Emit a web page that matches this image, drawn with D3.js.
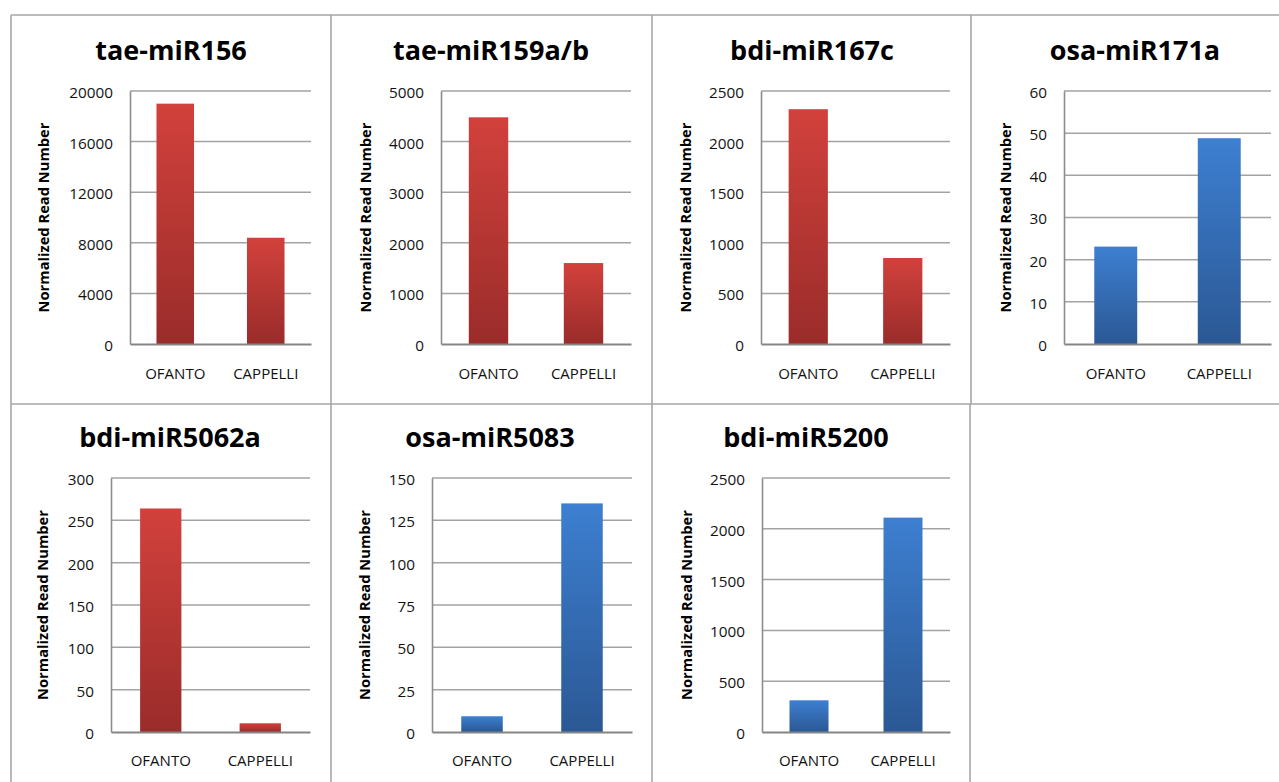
<!DOCTYPE html>
<html><head><meta charset="utf-8">
<script src="https://cdn.jsdelivr.net/npm/d3@7"></script>
<style>body{margin:0;background:#fff;} svg{display:block;}</style>
</head><body>
<script>
// ---------- data ----------
const titles = ["tae-miR156","tae-miR159a/b","bdi-miR167c","osa-miR171a","bdi-miR5062a","osa-miR5083","bdi-miR5200"];
const categories = ["OFANTO","CAPPELLI"];
const ofantoValues = [19000, 4480, 2320, 23.1, 264, 9.3, 312];
const cappelliValues = [8400, 1600, 850, 48.8, 10.3, 135, 2110];
const yMaxima = [20000, 5000, 2500, 60, 300, 150, 2500];
const yTickSteps = [4000, 1000, 500, 10, 50, 25, 500];
const barColours = ["red","red","red","blue","red","blue","blue"];
const yAxisTitle = "Normalized Read Number";

// ---------- layout ----------
const W = 1279, H = 782;
const layout = [
  {titleX:171,  row:0, plot:[130, 311], axisTitleX:44},
  {titleX:491,  row:0, plot:[441, 631], axisTitleX:366},
  {titleX:812,  row:0, plot:[761, 950], axisTitleX:686},
  {titleX:1135, row:0, plot:[1064,1271], axisTitleX:1006},
  {titleX:170,  row:1, plot:[111, 310], axisTitleX:43},
  {titleX:490,  row:1, plot:[432, 632], axisTitleX:365},
  {titleX:806,  row:1, plot:[762, 950], axisTitleX:687}
];
const rows = [
  {top:91,  bottom:344, titleY:60,  catY:379},
  {top:478, bottom:732, titleY:447, catY:766}
];
const FONT = "'Open Sans', 'Liberation Sans', sans-serif";

const svg = d3.select("body").append("svg").attr("width", W).attr("height", H);
const defs = svg.append("defs");
const gradStops = {red:["#d2413c","#9a2c2a"], blue:["#3d7fd1","#2b5894"]};
Object.entries(gradStops).forEach(([k,[a,b]]) => {
  const g = defs.append("linearGradient").attr("id","g-"+k)
    .attr("x1",0).attr("y1",0).attr("x2",0).attr("y2",1);
  g.append("stop").attr("offset","0%").attr("stop-color",a);
  g.append("stop").attr("offset","100%").attr("stop-color",b);
});

// ---------- table grid ----------
const tableColour = "#a6a6a6";
const tg = svg.append("g").attr("stroke", tableColour).attr("stroke-width", 1.6);
[15, 404].forEach(y => tg.append("line").attr("x1",11).attr("x2",W).attr("y1",y).attr("y2",y));
[11,331,652,971].forEach(x => tg.append("line").attr("x1",x).attr("x2",x).attr("y1",15).attr("y2",404));
[11,331,652,970].forEach(x => tg.append("line").attr("x1",x).attr("x2",x).attr("y1",404).attr("y2",H));

// ---------- panels ----------
titles.forEach((title, i) => {
  const L = layout[i], R = rows[L.row];
  const g = svg.append("g");
  const x = d3.scaleBand().domain(categories).range(L.plot).paddingInner(0.585).paddingOuter(0.2925);
  const y = d3.scaleLinear().domain([0, yMaxima[i]]).range([R.bottom, R.top]);
  const ticks = d3.range(0, yMaxima[i] + yTickSteps[i]/2, yTickSteps[i]);

  // gridlines
  g.append("g").selectAll("line").data(ticks.filter(t => t > 0)).join("line")
    .attr("x1", L.plot[0]).attr("x2", L.plot[1])
    .attr("y1", d => y(d)).attr("y2", d => y(d))
    .attr("stroke", "#a3a3a3").attr("stroke-width", 1.5);

  // bars
  const vals = [ofantoValues[i], cappelliValues[i]];
  g.append("g").selectAll("rect").data(categories).join("rect")
    .attr("x", d => x(d)).attr("width", x.bandwidth())
    .attr("y", (d, j) => y(vals[j])).attr("height", (d, j) => y(0) - y(vals[j]))
    .attr("fill", "url(#g-" + barColours[i] + ")");

  // y axis
  const yAxis = d3.axisLeft(y).tickValues(ticks).tickSize(0).tickPadding(17).tickFormat(d3.format("d"));
  const ya = g.append("g").attr("transform", `translate(${L.plot[0]},0)`).call(yAxis);
  ya.select(".domain").attr("stroke", "#8c8c8c").attr("stroke-width", 1.6);
  ya.selectAll("text").attr("font-family", FONT).attr("font-size", 15.3).attr("fill", "#111").attr("dy", "0.42em");

  // x axis
  const xAxis = d3.axisBottom(x).tickSize(0).tickPadding(0);
  const xa = g.append("g").attr("transform", `translate(0,${R.bottom})`).call(xAxis);
  xa.select(".domain").attr("stroke", "#858585").attr("stroke-width", 2);
  xa.selectAll("text").attr("font-family", FONT).attr("font-size", 15).attr("fill", "#111")
    .attr("y", R.catY - R.bottom).attr("dy", 0);

  // title
  g.append("text").attr("x", L.titleX).attr("y", R.titleY).attr("text-anchor", "middle")
    .attr("font-family", FONT).attr("font-weight", "bold").attr("font-size", 27).attr("fill", "#000")
    .text(title);

  // y axis title
  const cy = (R.top + R.bottom) / 2;
  g.append("text").attr("transform", `translate(${L.axisTitleX + 5},${cy}) rotate(-90)`)
    .attr("text-anchor", "middle").attr("font-family", FONT).attr("font-weight", "bold")
    .attr("font-size", 14.7).attr("fill", "#000").text(yAxisTitle);
});
</script>
</body></html>
